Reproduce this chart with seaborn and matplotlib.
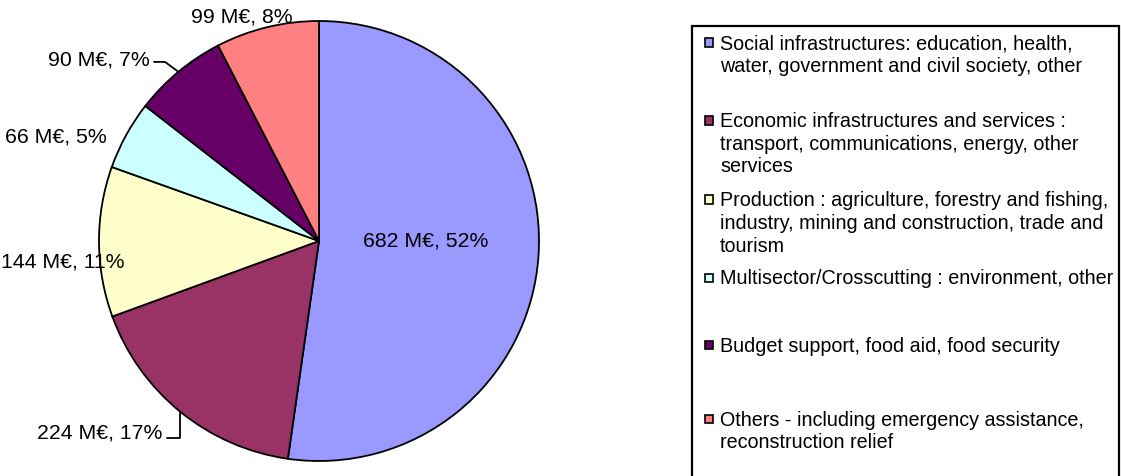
import numpy as np
import matplotlib
matplotlib.use("Agg")
import matplotlib.pyplot as plt
from matplotlib.patches import Rectangle
from matplotlib.lines import Line2D
import seaborn as sns

sns.set_theme(style="white")
plt.rcParams["font.family"] = ["Liberation Sans", "DejaVu Sans"]

# Sector breakdown of commitments, in millions of euros
sectors = [
    "Social infrastructures: education, health,\nwater, government and civil society, other",
    "Economic infrastructures and services :\ntransport, communications, energy, other\nservices",
    "Production : agriculture, forestry and fishing,\nindustry, mining and construction, trade and\ntourism",
    "Multisector/Crosscutting : environment, other",
    "Budget support, food aid, food security",
    "Others - including emergency assistance,\nreconstruction relief",
]
amounts_meur = [682, 224, 144, 66, 90, 99]
sector_colors = ["#9999FF", "#993366", "#FFFFCC", "#CCFFFF", "#660066", "#FF8080"]

W, H = 1121, 476
FS_PIE = 15.3
FS_LEG = 14.2

fig = plt.figure(figsize=(W / 100, H / 100), dpi=100)
fig.patch.set_facecolor("white")

# pie axes: 440 px square, centred at (319, 241) px from the top-left
ax = fig.add_axes([99 / W, (H - 241 - 220) / H, 440 / W, 440 / H])
palette = sns.color_palette(sector_colors)
wedges, _ = ax.pie(
    amounts_meur,
    colors=palette,
    startangle=90,
    counterclock=False,
    radius=1.0,
    wedgeprops=dict(edgecolor="black", linewidth=1.3),
)
ax.set_xlim(-1, 1)
ax.set_ylim(-1, 1)
ax.set_aspect("equal")
ax.axis("off")

total = sum(amounts_meur)
labels = [f"{v} M€, {round(100 * v / total)}%" for v in amounts_meur]

# label anchors (x, y, ha) in pie-radius units
label_layout = [
    (0.486, 0.0, "center"),
    (-0.714, -0.873, "right"),
    (-0.886, -0.095, "right"),
    (-0.964, 0.473, "right"),
    (-0.768, 0.825, "right"),
    (-0.350, 1.018, "center"),
]
# leader lines: index -> (elbow point, end x)
leaders = {
    1: ("vertical", -0.895, -0.691),
    4: ((-0.70, 0.814), None, -0.75),
}

for i, (w, lab, (lx, ly, ha)) in enumerate(zip(wedges, labels, label_layout)):
    ax.text(lx, ly, lab, ha=ha, va="center", fontsize=FS_PIE, color="black", clip_on=False)

for i, spec in leaders.items():
    w = wedges[i]
    mid = np.deg2rad((w.theta1 + w.theta2) / 2)
    ex, ey = np.cos(mid), np.sin(mid)
    if spec[0] == "vertical":
        ky, endx = spec[1], spec[2]
        xs, ys = [ex, ex, endx], [ey, ky, ky]
    else:
        (kx, ky), _, endx = spec
        xs, ys = [ex, kx, endx], [ey, ky, ky]
    ax.add_line(Line2D(xs, ys, color="black", linewidth=1.3, clip_on=False))


def fx(px):
    return px / W


def fy(py):
    return 1 - py / H


# legend frame
fig.add_artist(Rectangle((fx(692), fy(490)), fx(1119) - fx(692), fy(26) - fy(490),
                         transform=fig.transFigure, facecolor="white",
                         edgecolor="black", linewidth=1.6, zorder=0))

first_line_y = [42, 120, 199, 277, 344, 418]
line_step = 22.5
for name, col, y0 in zip(sectors, sector_colors, first_line_y):
    fig.add_artist(Rectangle((fx(705), fy(y0 + 4.5)), fx(8), 8 / H,
                             transform=fig.transFigure, facecolor=col,
                             edgecolor="black", linewidth=1.2))
    for k, line in enumerate(name.split("\n")):
        fig.text(fx(720), fy(y0 + k * line_step + 7.5), line, ha="left", va="baseline",
                 fontsize=FS_LEG, color="black")

fig.savefig("out.png", dpi=100, facecolor="white")
